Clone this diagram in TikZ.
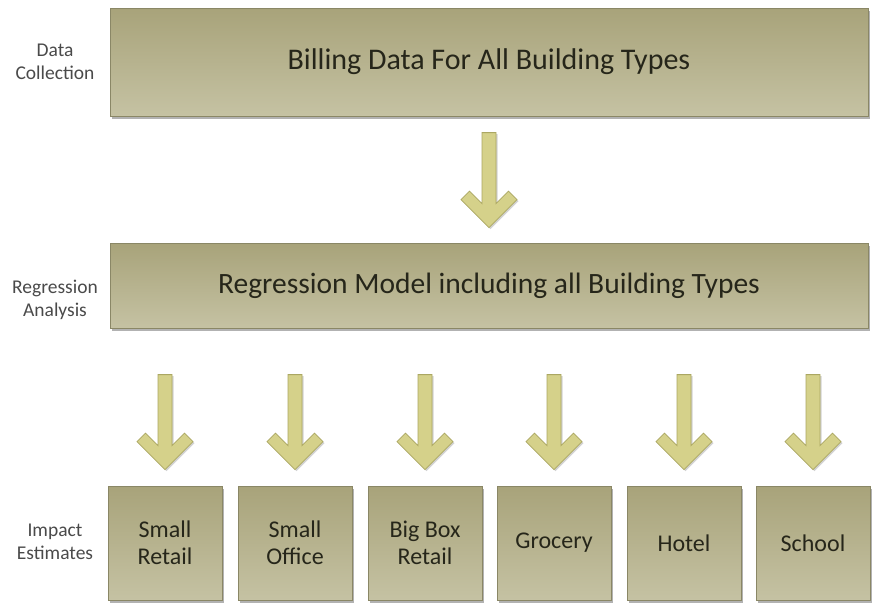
\documentclass[tikz,border=0pt]{standalone}
\usepackage{fontspec}
\setmainfont{Carlito}
\usetikzlibrary{shadows}
\definecolor{boxtop}{HTML}{A8A37A}
\definecolor{boxbot}{HTML}{C5C2A3}
\definecolor{boxline}{HTML}{8A8766}
\definecolor{boxtext}{HTML}{26261A}
\definecolor{arrowfill}{HTML}{D5D18A}
\definecolor{arrowline}{HTML}{ABA762}
\definecolor{sidetext}{HTML}{4A4A4A}
\tikzset{
  stagebox/.style={rectangle, draw=boxline, line width=0.8pt,
    top color=boxtop, bottom color=boxbot, text=boxtext,
    inner sep=0pt, align=center,
    drop shadow={shadow xshift=2pt, shadow yshift=-2.5pt, fill=black!55, opacity=0.55}},
  widebox/.style={stagebox, minimum width=758pt},
  smallbox/.style={stagebox, minimum width=114pt, minimum height=114pt,
    font=\fontsize{24}{27}\selectfont},
  sidelabel/.style={text=sidetext, align=center, font=\fontsize{19.5}{23}\selectfont},
  pics/downarrow/.style={code={
    \fill[black!35, opacity=0.5, shift={(1.5,1.5)}]
      (0,0) -- (-28,-28) -- (-19.5,-36.5) -- (-7,-24) -- (-7,-95) -- (7,-95)
      -- (7,-24) -- (19.5,-36.5) -- (28,-28) -- cycle;
    \filldraw[fill=arrowfill, draw=arrowline, line width=0.8pt, line join=miter]
      (0,0) -- (-28,-28) -- (-19.5,-36.5) -- (-7,-24) -- (-7,-95) -- (7,-95)
      -- (7,-24) -- (19.5,-36.5) -- (28,-28) -- cycle;
  }}
}
\begin{document}
\begin{tikzpicture}[x=1pt, y=-1pt]
  \useasboundingbox[fill=white] (0,0) rectangle (874,606);

  % stage labels on the left
  \node[sidelabel] (lblcollect) at (55,62) {Data\\Collection};
  \node[sidelabel] (lblregress) at (55,300) {Regression\\Analysis};
  \node[sidelabel] (lblimpact)  at (55,542) {Impact\\Estimates};

  % data collection and regression stages
  \node[widebox, minimum height=108pt, font=\fontsize{30}{36}\selectfont]
    (collect) at (489,62) {Billing Data For All Building Types};
  \node[widebox, minimum height=85pt, font=\fontsize{29.5}{35}\selectfont]
    (regress) at (489,285.5) {Regression Model including all Building Types};

  % building-type estimates
  \node[smallbox] (retail)  at (165,543) {Small\\Retail};
  \node[smallbox] (office)  at (295,543) {Small\\Office};
  \node[smallbox] (bigbox)  at (425,543) {Big Box\\Retail};
  \node[smallbox] (grocery) at (554,543) {Grocery};
  \node[smallbox] (hotel)   at (684,543) {Hotel};
  \node[smallbox] (school)  at (813,543) {School};

  % flow arrows
  \pic at ([yshift=15pt]regress.north) {downarrow};
  \foreach \b in {retail, office, bigbox, grocery, hotel, school}
    \pic at ([yshift=16pt]\b.north) {downarrow};
\end{tikzpicture}
\end{document}
